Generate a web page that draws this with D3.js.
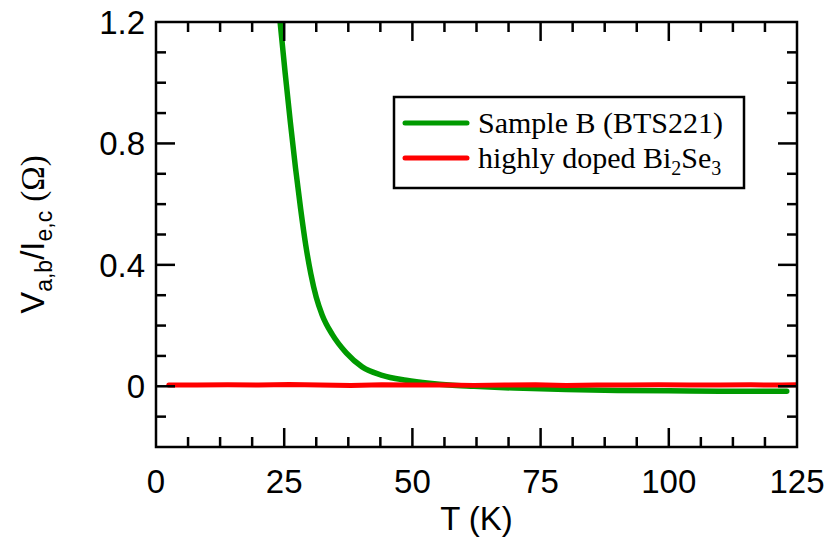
<!DOCTYPE html>
<html>
<head>
<meta charset="utf-8">
<script src="https://cdn.jsdelivr.net/npm/d3@7"></script>
<style>
  html, body { margin: 0; padding: 0; background: #fff; }
  svg { display: block; }
  .tick-label { font-family: "Liberation Sans", Arial, sans-serif; font-size: 33px; fill: #000; }
  .legend-text { font-family: "Liberation Serif", "Times New Roman", serif; font-size: 30px; fill: #000; }
</style>
</head>
<body>
<div id="chart"></div>
<script>
// --- data ---
// Sample B (BTS221): temperature (K) and V/I (ohm)
const greenT = [24.2, 25.2, 26.2, 27.2, 28.2, 29.2, 30.2, 31.25, 32.4, 34.4, 37.1, 40.2, 44.1, 48.8, 53.3, 57.2, 62, 70, 80, 90, 100, 110, 123];
const greenV = [1.20, 1.03, 0.87, 0.72, 0.585, 0.465, 0.37, 0.293, 0.235, 0.170, 0.110, 0.064, 0.036, 0.020, 0.010, 0.004, 0.0, -0.006, -0.011, -0.014, -0.015, -0.016, -0.016];

// highly doped Bi2Se3: flat, tiny wiggles
const redT = [2.5, 8, 14, 20, 26, 32, 38, 44, 50, 56, 62, 68, 74, 80, 86, 92, 98, 104, 110, 116, 122, 125];
const redV = [0.004, 0.004, 0.005, 0.004, 0.006, 0.004, 0.003, 0.005, 0.004, 0.004, 0.003, 0.004, 0.005, 0.003, 0.004, 0.004, 0.005, 0.004, 0.004, 0.005, 0.004, 0.005];

const xMajor = [0, 25, 50, 75, 100, 125];
const xMinor = [6.25, 12.5, 18.75, 31.25, 37.5, 43.75, 56.25, 62.5, 68.75, 81.25, 87.5, 93.75, 106.25, 112.5, 118.75];
const yMajor = [0, 0.4, 0.8, 1.2];
const yMinor = [-0.1, 0.1, 0.2, 0.3, 0.5, 0.6, 0.7, 0.9, 1.0, 1.1];
const xLabels = ['0', '25', '50', '75', '100', '125'];
const yLabels = ['0', '0.4', '0.8', '1.2'];

const W = 832, H = 544;
const plotL = 156, plotR = 797, plotT = 22, plotB = 447;
const majorLen = 19, minorLen = 10;

const x = d3.scaleLinear().domain([0, 125]).range([plotL, plotR]);
const y = d3.scaleLinear().domain([-0.2, 1.2]).range([plotB, plotT]);

const svg = d3.select('#chart').append('svg')
  .attr('width', W)
  .attr('height', H);

// clip so the green curve stops at the top frame
svg.append('defs').append('clipPath').attr('id', 'plotClip')
  .append('rect')
  .attr('x', plotL).attr('y', plotT)
  .attr('width', plotR - plotL).attr('height', plotB - plotT);

const line = d3.line()
  .x(d => x(d[0]))
  .y(d => y(d[1]))
  .curve(d3.curveMonotoneX);

const gData = svg.append('g').attr('clip-path', 'url(#plotClip)');

gData.append('path')
  .datum(d3.zip(greenT, greenV))
  .attr('fill', 'none')
  .attr('stroke', '#009a00')
  .attr('stroke-width', 5.5)
  .attr('stroke-linecap', 'round')
  .attr('d', line);

gData.append('path')
  .datum(d3.zip(redT, redV))
  .attr('fill', 'none')
  .attr('stroke', '#ff0000')
  .attr('stroke-width', 5)
  .attr('stroke-linecap', 'round')
  .attr('d', d3.line().x(d => x(d[0])).y(d => y(d[1])));

// frame + inward ticks on all four sides
const gAxes = svg.append('g').attr('stroke', '#000').attr('stroke-width', 2.5).attr('fill', 'none');

gAxes.append('rect')
  .attr('x', plotL).attr('y', plotT)
  .attr('width', plotR - plotL).attr('height', plotB - plotT);

function xTicks(vals, len) {
  vals.forEach(v => {
    gAxes.append('line').attr('x1', x(v)).attr('x2', x(v)).attr('y1', plotB).attr('y2', plotB - len);
    gAxes.append('line').attr('x1', x(v)).attr('x2', x(v)).attr('y1', plotT).attr('y2', plotT + len);
  });
}
function yTicks(vals, len) {
  vals.forEach(v => {
    gAxes.append('line').attr('y1', y(v)).attr('y2', y(v)).attr('x1', plotL).attr('x2', plotL + len);
    gAxes.append('line').attr('y1', y(v)).attr('y2', y(v)).attr('x1', plotR).attr('x2', plotR - len);
  });
}
xTicks(xMajor.filter(v => v > 0 && v < 125), majorLen);
xTicks(xMinor, minorLen);
yTicks(yMajor.filter(v => v < 1.2), majorLen);
yTicks(yMinor, minorLen);

// tick labels
svg.append('g').selectAll('text')
  .data(xMajor)
  .join('text')
  .attr('class', 'tick-label')
  .attr('x', d => x(d))
  .attr('y', 493)
  .attr('text-anchor', 'middle')
  .text((d, i) => xLabels[i]);

svg.append('g').selectAll('text')
  .data(yMajor)
  .join('text')
  .attr('class', 'tick-label')
  .attr('x', plotL - 11)
  .attr('y', d => y(d))
  .attr('dy', '0.36em')
  .attr('text-anchor', 'end')
  .text((d, i) => yLabels[i]);

// axis titles
svg.append('text')
  .attr('class', 'tick-label')
  .attr('x', (plotL + plotR) / 2)
  .attr('y', 530)
  .attr('text-anchor', 'middle')
  .text('T (K)');

const yTitle = svg.append('text')
  .attr('class', 'tick-label')
  .attr('transform', `translate(44,${(plotT + plotB) / 2}) rotate(-90)`)
  .attr('text-anchor', 'middle');
yTitle.append('tspan').text('V');
yTitle.append('tspan').attr('font-size', 23).attr('dy', 8).text('a,b');
yTitle.append('tspan').attr('dy', -8).text('/I');
yTitle.append('tspan').attr('font-size', 23).attr('dy', 8).text('e,c');
yTitle.append('tspan').attr('dy', -8).text(' ');
yTitle.append('tspan')
  .attr('font-family', '"Liberation Serif", "Times New Roman", serif')
  .attr('font-size', 33)
  .text('(\u03A9)');

// legend
const legendItems = [
  { color: '#009a00', parts: [['Sample B (BTS221)', 0]] },
  { color: '#ff0000', parts: [['highly doped Bi', 0], ['2', 1], ['Se', 0], ['3', 1]] }
];
const gLeg = svg.append('g');
gLeg.append('rect')
  .attr('x', 394).attr('y', 97)
  .attr('width', 350).attr('height', 91)
  .attr('fill', '#fff')
  .attr('stroke', '#000')
  .attr('stroke-width', 2.5);

legendItems.forEach((item, i) => {
  const cy = 123 + i * 35;
  gLeg.append('line')
    .attr('x1', 405).attr('x2', 467)
    .attr('y1', cy).attr('y2', cy)
    .attr('stroke', item.color)
    .attr('stroke-width', 5)
    .attr('stroke-linecap', 'round');
  const t = gLeg.append('text')
    .attr('class', 'legend-text')
    .attr('x', 478)
    .attr('y', cy + 10);
  let sub = 0;
  item.parts.forEach(([s, isSub]) => {
    const ts = t.append('tspan').text(s);
    if (isSub && !sub) { ts.attr('dy', 7).attr('font-size', 20); sub = 1; }
    else if (!isSub && sub) { ts.attr('dy', -7); sub = 0; }
    else if (isSub) { ts.attr('font-size', 20); }
  });
});
</script>
</body>
</html>
